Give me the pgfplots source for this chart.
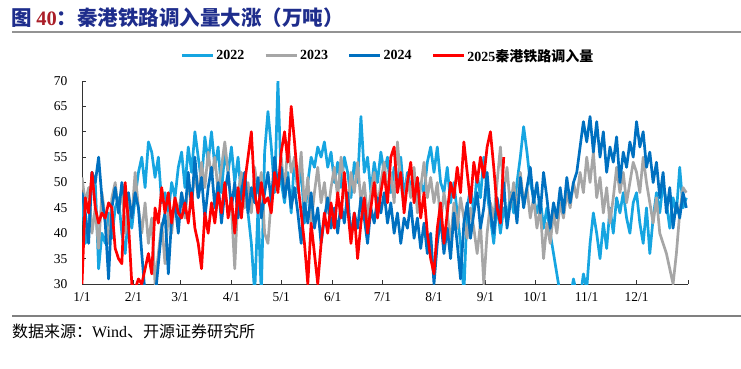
\documentclass[border=0pt]{standalone}
\usepackage{pgfplots}
\pgfplotsset{compat=1.18}
\usepackage{fontspec}
\setmainfont{Liberation Serif}
\newfontfamily\cjk{Noto Sans CJK SC}
\definecolor{c22}{RGB}{22,165,225}
\definecolor{c23}{RGB}{166,166,166}
\definecolor{c24}{RGB}{0,112,192}
\definecolor{c25}{RGB}{255,0,0}
\definecolor{navy}{RGB}{30,45,140}
\definecolor{maroon}{RGB}{170,30,40}
\begin{document}
\begin{tikzpicture}
\path[use as bounding box] (0pt,0pt) rectangle (741pt,368pt);
\node[anchor=west,inner sep=0pt] at (11pt,350pt) {\fontsize{20.5}{24}\selectfont\bfseries\cjk\textcolor{navy}{图 }\textcolor{maroon}{\rmfamily\bfseries 40}\textcolor{navy}{：秦港铁路调入量大涨（万吨）}};
\draw[gray!85, line width=2pt] (12pt,336pt) -- (741pt,336pt);
\draw[gray, line width=1.2pt] (12pt,52pt) -- (741pt,52pt);
\node[anchor=west,inner sep=0pt] at (12pt,37pt) {\fontsize{16}{18}\selectfont\cjk 数据来源：{\rmfamily Wind}、开源证券研究所};
\begin{axis}[
 at={(82pt,84pt)}, anchor=south west,
 scale only axis, width=606pt, height=203pt,
 xmin=0, xmax=365, ymin=30, ymax=70,
 axis lines*=left,
 axis line style={black!80, line width=0.8pt},
 tick align=inside,
 major tick length=4pt,
 tick style={black!80, line width=0.8pt},
 xtick={0,31,59,90,120,151,181,212,243,273,304,334,365},
 xticklabels={1/1,2/1,3/1,4/1,5/1,6/1,7/1,8/1,9/1,10/1,11/1,12/1,{}},
 ytick={30,35,40,45,50,55,60,65,70},
 ticklabel style={font=\fontsize{13.5}{15}\selectfont},
 yticklabel style={xshift=-11pt},
 xticklabel style={yshift=-5pt},
 /pgf/number format/assume math mode=true,
 legend columns=4,
 legend style={draw=none, fill=none, at={(0.505,1.07)}, anchor=south, font=\fontsize{14}{16}\selectfont\bfseries, /tikz/every even column/.append style={column sep=18pt}},
 legend image code/.code={\draw[#1] (0pt,0pt) -- (31pt,0pt);},
 every axis plot/.append style={line width=2.7pt, line join=round},
]
\addplot[c22] coordinates {
(0,48)(2,38)(4,41)(6,52)(8,50)(10,33)(12,40)(14,38)(16,44)(18,39)(20,45)(22,47)(24,40)(26,36)(28,44)(30,41)
(32,47)(34,52)(36,55)(38,49)(40,58)(42,56)(44,51)(46,55)(48,46)(50,48)(52,44)(54,50)(56,47)(58,53)
(60,56)(62,49)(64,57)(66,52)(68,60)(70,55)(72,50)(74,59)(76,54)(78,60)(80,53)(82,57)(84,48)(86,56)(88,52)
(90,57)(92,50)(94,55)(96,47)(98,52)(100,44)(102,38)(104,28)(106,45)(108,28)(110,56)(112,64)(114,57)(116,48)(118,70)
(120,50)(122,46)(124,52)(126,44)(128,55)(130,48)(132,53)(134,42)(136,50)(138,55)(140,53)(142,57)(144,55)(146,58)(148,53)(150,56)
(152,50)(154,54)(156,49)(158,55)(160,52)(162,47)(164,54)(166,50)(168,63)(170,52)(172,55)(174,48)(176,54)(178,50)(180,56)
(182,52)(184,55)(186,48)(188,53)(190,50)(192,55)(194,47)(196,52)(198,49)(200,51)(202,46)(204,50)(206,48)(208,54)(210,57)
(212,52)(214,57)(216,50)(218,48)(220,53)(222,46)(224,50)(226,44)(228,38)(230,28)(232,45)(234,49)(236,44)(238,52)(240,47)(242,55)
(244,48)(246,43)(248,38)(250,46)(252,40)(254,45)(256,42)(258,48)(260,44)(262,50)(264,55)(266,61)(268,56)(270,50)(272,47)
(274,44)(276,47)(278,41)(280,45)(282,40)(284,36)(286,32)(288,28)(290,27)(292,28)(294,27)(296,31)(298,28)(300,27)(302,32)
(304,29)(306,38)(308,44)(310,40)(312,35)(314,42)(316,37)(318,45)(320,40)(322,47)(324,44)(326,48)(328,43)(330,40)(332,46)
(334,48)(336,42)(338,38)(340,45)(342,36)(344,43)(346,48)(348,44)(350,50)(352,46)(354,41)(356,47)(358,44)(360,53)(362,45)(364,47)
};
\addlegendentry{2022}
\addplot[c23] coordinates {
(0,51)(2,46)(4,49)(6,40)(8,45)(10,37)(12,48)(14,43)(16,38)(18,47)(20,50)(22,44)(24,49)(26,40)(28,46)(30,43)
(32,52)(34,45)(36,40)(38,46)(40,38)(42,43)(44,30)(46,36)(48,42)(50,34)(52,44)(54,40)(56,47)(58,44)
(60,48)(62,43)(64,50)(66,46)(68,52)(70,47)(72,54)(74,49)(76,56)(78,51)(80,55)(82,48)(84,53)(86,58)(88,52)
(90,45)(92,33)(94,48)(96,52)(98,45)(100,50)(102,44)(104,53)(106,48)(108,52)(110,40)(112,38)(114,47)(116,52)(118,50)
(120,55)(122,48)(124,58)(126,52)(128,55)(130,49)(132,56)(134,45)(136,51)(138,42)(140,48)(142,53)(144,46)(146,50)(148,44)(150,49)
(152,53)(154,47)(156,55)(158,50)(160,44)(162,52)(164,48)(166,54)(168,46)(170,50)(172,43)(174,48)(176,52)(178,45)(180,50)
(182,54)(184,48)(186,52)(188,46)(190,58)(192,50)(194,45)(196,51)(198,47)(200,53)(202,44)(204,49)(206,54)(208,47)(210,51)
(212,46)(214,50)(216,42)(218,48)(220,44)(222,38)(224,46)(226,41)(228,47)(230,43)(232,39)(234,45)(236,41)(238,36)(240,42)(242,30)
(244,40)(246,46)(248,43)(250,50)(252,57)(254,48)(256,53)(258,45)(260,50)(262,44)(264,52)(266,46)(268,49)(270,43)(272,47)
(274,41)(276,45)(278,35)(280,42)(282,38)(284,44)(286,40)(288,46)(290,43)(292,48)(294,45)(296,50)(298,47)(300,52)(302,48)
(304,55)(306,50)(308,56)(310,47)(312,51)(314,44)(316,49)(318,42)(320,47)(322,53)(324,48)(326,52)(328,46)(330,50)(332,54)
(334,52)(336,48)(338,55)(340,50)(342,46)(344,42)(346,47)(348,40)(350,38)(352,36)(354,33)(356,30)(358,36)(360,44)(362,49)(364,48)
};
\addlegendentry{2023}
\addplot[c24] coordinates {
(0,48)(2,44)(4,38)(6,52)(8,50)(10,55)(12,47)(14,42)(16,31)(18,45)(20,49)(22,44)(24,50)(26,46)(28,48)(30,43)
(32,48)(34,45)(36,36)(38,28)(40,27)(42,28)(44,27)(46,34)(48,41)(50,44)(52,32)(54,43)(56,46)(58,40)
(60,48)(62,44)(64,52)(66,45)(68,55)(70,47)(72,51)(74,43)(76,49)(78,53)(80,45)(82,50)(84,42)(86,48)(88,52)
(90,45)(92,50)(94,43)(96,48)(98,52)(100,44)(102,49)(104,46)(106,51)(108,43)(110,48)(112,52)(114,46)(116,55)(118,49)
(120,53)(122,47)(124,51)(126,45)(128,49)(130,44)(132,38)(134,46)(136,42)(138,48)(140,41)(142,45)(144,38)(146,43)(148,47)(150,41)
(152,45)(154,40)(156,46)(158,42)(160,48)(162,39)(164,44)(166,41)(168,47)(170,43)(172,38)(174,45)(176,42)(178,47)(180,44)
(182,48)(184,42)(186,46)(188,40)(190,44)(192,38)(194,43)(196,41)(198,46)(200,39)(202,43)(204,37)(206,42)(208,36)(210,40)
(212,30)(214,38)(216,43)(218,36)(220,41)(222,35)(224,44)(226,38)(228,31)(230,42)(232,46)(234,39)(236,44)(238,48)(240,41)(242,45)
(244,52)(246,44)(248,40)(250,47)(252,43)(254,50)(256,41)(258,46)(260,48)(262,42)(264,51)(266,45)(268,49)(270,53)(272,46)
(274,50)(276,44)(278,52)(280,47)(282,41)(284,46)(286,43)(288,49)(290,44)(292,51)(294,46)(296,50)(298,52)(300,57)(302,62)
(304,58)(306,63)(308,56)(310,62)(312,55)(314,60)(316,52)(318,57)(320,54)(322,59)(324,50)(326,56)(328,53)(330,58)(332,55)
(334,62)(336,57)(338,60)(340,53)(342,56)(344,50)(346,54)(348,47)(350,52)(352,44)(354,49)(356,41)(358,46)(360,43)(362,48)(364,45)
};
\addlegendentry{2024}
\addplot[c25] coordinates {
(0,30)(2,47)(4,44)(6,52)(8,45)(10,42)(12,44)(14,43)(16,46)(18,45)(20,37)(22,35)(24,34)(26,50)(28,42)(30,30)
(32,29)(34,31)(36,30)(38,33)(40,36)(42,32)(44,45)(46,42)(48,49)(50,44)(52,48)(54,42)(56,47)(58,44)
(60,43)(62,46)(64,42)(66,48)(68,41)(70,38)(72,33)(74,44)(76,40)(78,46)(80,42)(82,48)(84,44)(86,50)(88,43)
(90,47)(92,40)(94,49)(96,43)(98,50)(100,55)(102,60)(104,48)(106,44)(108,50)(110,46)(112,47)(114,44)(116,52)(118,48)
(120,56)(122,60)(124,54)(126,65)(128,58)(130,50)(132,44)(134,38)(136,30)(138,42)(140,36)(142,30)(144,38)(146,44)(148,40)(150,46)
(152,41)(154,48)(156,43)(158,52)(160,45)(162,38)(164,44)(166,35)(168,42)(170,47)(172,40)(174,45)(176,50)(178,43)(180,48)
(182,52)(184,46)(186,55)(188,57)(190,48)(192,52)(194,44)(196,50)(198,54)(200,46)(202,51)(204,43)(206,48)(208,40)(210,35)
(212,32)(214,41)(216,46)(218,38)(220,44)(222,50)(224,47)(226,53)(228,48)(230,58)(232,52)(234,46)(236,54)(238,50)(240,55)(242,51)
(244,57)(246,60)(248,53)(250,45)(252,42)(254,55)
};
\addlegendentry{2025{\cjk 秦港铁路调入量}}
\end{axis}
\end{tikzpicture}
\end{document}
